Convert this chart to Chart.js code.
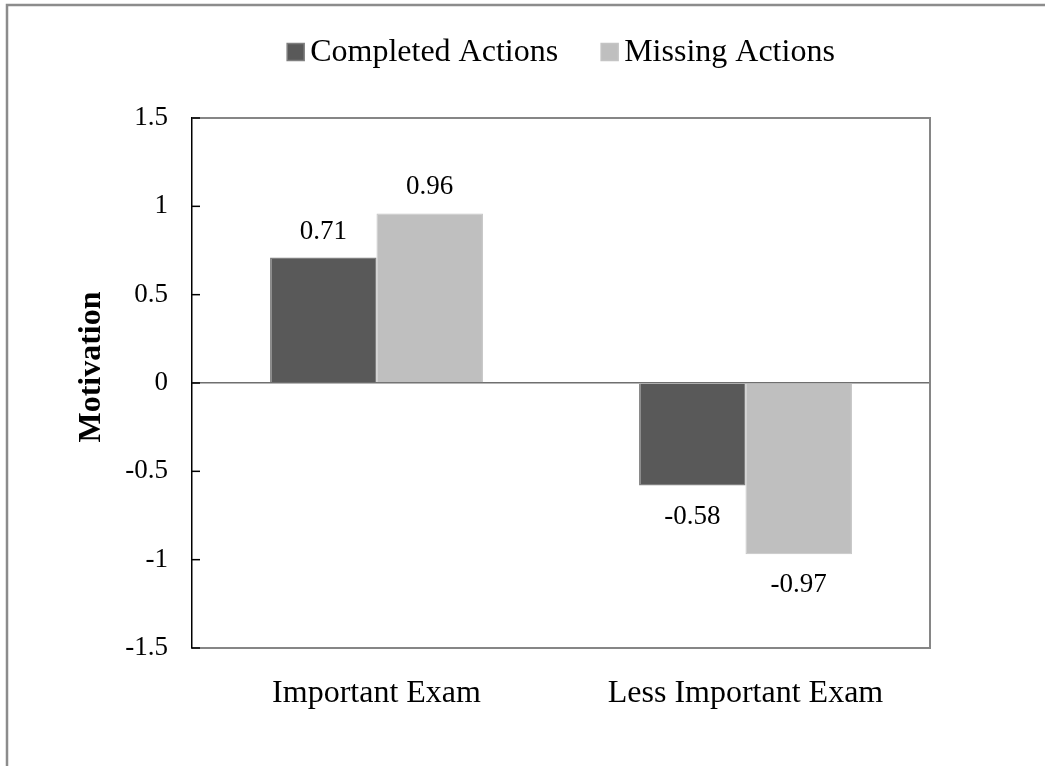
<!DOCTYPE html>
<html>
<head>
<meta charset="utf-8">
<title>Motivation</title>
<script src="https://cdn.jsdelivr.net/npm/chart.js@4.4.0/dist/chart.umd.min.js"></script>
<style>
  html, body { margin: 0; padding: 0; background: #fff; }
  #chart { display: block; }
</style>
</head>
<body>
<canvas id="chart" width="1045" height="766"></canvas>
<script>
// categories and series
const categories = ['Important Exam', 'Less Important Exam'];
const completed = [0.71, -0.58];
const missing = [0.96, -0.97];
const seriesNames = ['Completed Actions', 'Missing Actions'];
const yTicks = [-1.5, -1, -0.5, 0, 0.5, 1, 1.5];
const yTitle = 'Motivation';

const serif = 'Liberation Serif, Times New Roman, serif';
const frameGray = '#868686';

// extra drawing: outer frame, plot border, inner ticks, value labels, legend, y title
const extras = {
  id: 'extras',
  afterDraw(chart) {
    const ctx = chart.ctx;
    const area = chart.chartArea;
    const y = chart.scales.y;

    ctx.save();

    // outer frame (only top and left edges fall inside the canvas)
    ctx.strokeStyle = '#8c8c8c';
    ctx.lineWidth = 2.5;
    ctx.beginPath();
    ctx.moveTo(7, 800);
    ctx.lineTo(7, 5);
    ctx.lineTo(1100, 5);
    ctx.stroke();

    // top and right edges of the plot area
    ctx.strokeStyle = frameGray;
    ctx.lineWidth = 2;
    ctx.beginPath();
    ctx.moveTo(area.left, area.top);
    ctx.lineTo(area.right, area.top);
    ctx.lineTo(area.right, area.bottom);
    ctx.stroke();

    // y ticks pointing into the plot
    ctx.strokeStyle = '#000';
    ctx.lineWidth = 1.5;
    y.ticks.forEach(t => {
      const py = y.getPixelForValue(t.value);
      ctx.beginPath();
      ctx.moveTo(area.left, py);
      ctx.lineTo(area.left + 8, py);
      ctx.stroke();
    });

    // value labels
    ctx.fillStyle = '#000';
    ctx.font = '27px ' + serif;
    ctx.textAlign = 'center';
    ctx.textBaseline = 'middle';
    chart.data.datasets.forEach((ds, i) => {
      chart.getDatasetMeta(i).data.forEach((bar, j) => {
        const v = ds.data[j];
        const ly = v >= 0 ? bar.y - 26 : bar.y + 31;
        ctx.fillText(v.toFixed(2), bar.x, ly);
      });
    });

    // legend
    ctx.font = '32px ' + serif;
    ctx.textAlign = 'left';
    const box = 17, gapText = 6, gapItem = 43;
    const widths = seriesNames.map(n => box + gapText + ctx.measureText(n).width);
    const total = widths.reduce((a, b) => a + b, 0) + gapItem * (widths.length - 1);
    let lx = (area.left + area.right) / 2 - total / 2;
    const ly = 52;
    chart.data.datasets.forEach((ds, i) => {
      ctx.fillStyle = ds.backgroundColor;
      ctx.fillRect(lx, ly - box / 2, box, box);
      ctx.strokeStyle = ds.borderColor;
      ctx.lineWidth = 1.5;
      ctx.strokeRect(lx, ly - box / 2, box, box);
      ctx.fillStyle = '#000';
      ctx.fillText(seriesNames[i], lx + box + gapText, ly + 1);
      lx += widths[i] + gapItem;
    });

    // y axis title, rotated
    ctx.translate(92, (area.top + area.bottom) / 2 - 16);
    ctx.rotate(-Math.PI / 2);
    ctx.font = 'bold 32px ' + serif;
    ctx.textAlign = 'center';
    ctx.textBaseline = 'middle';
    ctx.fillStyle = '#000';
    ctx.fillText(yTitle, 0, 0);

    ctx.restore();
  }
};

new Chart(document.getElementById('chart'), {
  type: 'bar',
  data: {
    labels: categories,
    datasets: [
      {
        label: seriesNames[0],
        data: completed,
        backgroundColor: '#595959',
        borderColor: '#7f7f7f',
        borderWidth: 1.5,
        categoryPercentage: 0.577,
        barPercentage: 1.0
      },
      {
        label: seriesNames[1],
        data: missing,
        backgroundColor: '#bfbfbf',
        borderColor: '#c4c4c4',
        borderWidth: 1,
        categoryPercentage: 0.577,
        barPercentage: 1.0
      }
    ]
  },
  options: {
    responsive: false,
    animation: false,
    layout: { padding: { top: 118, right: 115, bottom: 0, left: 0 } },
    plugins: {
      legend: { display: false },
      tooltip: { enabled: false }
    },
    scales: {
      x: {
        grid: { display: false },
        border: { display: true, color: frameGray, width: 2 },
        ticks: {
          color: '#000',
          font: { family: serif, size: 32 },
          padding: 18
        },
        afterFit(scale) { scale.height = 118; }
      },
      y: {
        min: -1.5,
        max: 1.5,
        afterBuildTicks(scale) {
          scale.ticks = yTicks.map(v => ({ value: v }));
        },
        grid: {
          drawTicks: false,
          color: ctx => (ctx.tick && ctx.tick.value === 0) ? '#6f6f6f' : 'rgba(0,0,0,0)',
          lineWidth: 1.5
        },
        border: { display: true, color: '#000', width: 1.5 },
        ticks: {
          color: '#000',
          font: { family: serif, size: 27 },
          padding: 24,
          callback: v => String(v)
        },
        afterFit(scale) { scale.width = 192; }
      }
    }
  },
  plugins: [extras]
});
</script>
</body>
</html>
